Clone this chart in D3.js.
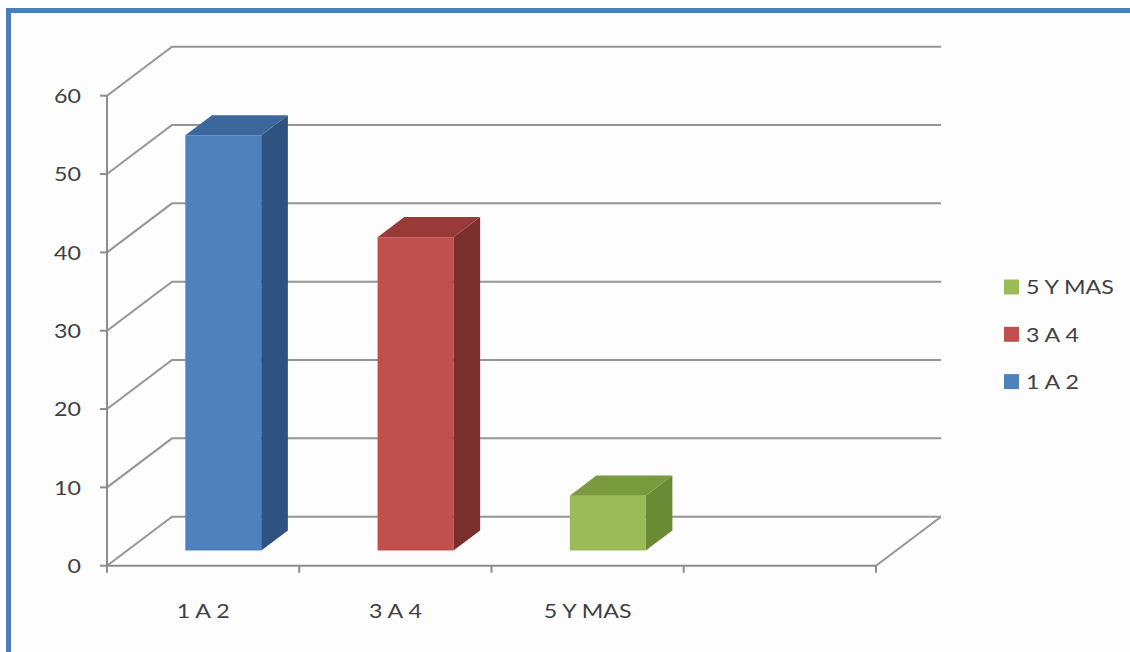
<!DOCTYPE html>
<html>
<head>
<meta charset="utf-8">
<script src="https://cdn.jsdelivr.net/npm/d3@7"></script>
<style>
  html, body { margin: 0; padding: 0; background: #ffffff; }
  svg { display: block; }
  text { font-family: Lato, "Open Sans", sans-serif; fill: #404040; }
</style>
</head>
<body>
<svg id="chart" width="1130" height="652"></svg>
<script>
// Chart data
const categories = ["1 A 2", "3 A 4", "5 Y MAS", ""];
const values = [53, 40, 7, null];
const yTicks = [0, 10, 20, 30, 40, 50, 60];
const legendOrder = ["5 Y MAS", "3 A 4", "1 A 2"];
const frontColors = ["#4f81bd", "#c0504d", "#9bbb59"];
const sideColors = ["#2f5280", "#7b2f2d", "#6b8a36"];
const topColors = ["#3c679c", "#983b38", "#7a9a3e"];

const svg = d3.select("#chart");
const TEXT_STRETCH = 1.16; // glyphs are drawn slightly wide

// frame
svg.append("rect").attr("x", 8).attr("y", 10).attr("width", 1130).attr("height", 660)
  .attr("fill", "#fdfdfd");
svg.append("path").attr("d", "M8.5,652 L8.5,10.5 L1130,10.5")
  .attr("fill", "none").attr("stroke", "#4a7ebb").attr("stroke-width", 5);

// 3D projection: depth shift of the back wall
const DX = 65, DY = -49;
const barFront = 0.31, barBack = 0.72;

const y = d3.scaleLinear().domain([0, 60]).range([565.7, 95.7]);
const x = d3.scaleBand().domain(categories).range([107, 876]).paddingInner(0).paddingOuter(0);
const barFrac = 0.395;

const grid = svg.append("g").attr("stroke", "#959595").attr("stroke-width", 2).attr("fill", "none");
const x0 = x.range()[0], x1 = x.range()[1];

// side-wall diagonals and back-wall gridlines
yTicks.forEach(v => {
  grid.append("path")
    .attr("d", `M${x0},${y(v)} L${x0 + DX},${y(v) + DY} L${x1 + DX},${y(v) + DY}`);
});
// floor right edge
grid.append("path").attr("d", `M${x1},${y(0)} L${x1 + DX},${y(0) + DY}`);

// front axes
const axisG = svg.append("g").attr("stroke", "#8c8c8c").attr("stroke-width", 2).attr("fill", "none");
axisG.append("path").attr("d", `M${x0},${y(60)} L${x0},${y(0)} L${x1},${y(0)}`);
yTicks.forEach(v => axisG.append("path").attr("d", `M${x0 - 7},${y(v)} L${x0},${y(v)}`));
const bandEdges = categories.map(c => x(c)).concat([x1]);
bandEdges.forEach(bx => axisG.append("path").attr("d", `M${bx},${y(0)} L${bx},${y(0) + 7}`));

// y tick labels
svg.append("g").selectAll("text").data(yTicks).join("text")
  .attr("transform", d => `translate(81,${y(d)}) scale(${TEXT_STRETCH},1)`)
  .attr("dy", "0.36em")
  .attr("text-anchor", "end").attr("font-size", 20)
  .text(d => d);

// category labels
svg.append("g").selectAll("text").data(categories.filter(c => c)).join("text")
  .attr("transform", d => `translate(${x(d) + x.bandwidth() / 2},618) scale(${TEXT_STRETCH},1)`)
  .attr("text-anchor", "middle").attr("font-size", 20)
  .text(d => d);

// bars
const bars = svg.append("g");
categories.forEach((c, i) => {
  const v = values[i];
  if (v == null) return;
  const w = x.bandwidth() * barFrac;
  const left = x(c) + (x.bandwidth() - w) / 2;
  const fx = DX * barFront, fy = DY * barFront;
  const bx = DX * barBack, by = DY * barBack;
  const yt = y(v), yb = y(0);
  // front face
  bars.append("path").attr("fill", frontColors[i])
    .attr("d", `M${left + fx},${yt + fy} L${left + w + fx},${yt + fy} L${left + w + fx},${yb + fy} L${left + fx},${yb + fy} Z`);
  // side face
  bars.append("path").attr("fill", sideColors[i])
    .attr("d", `M${left + w + fx},${yt + fy} L${left + w + bx},${yt + by} L${left + w + bx},${yb + by} L${left + w + fx},${yb + fy} Z`);
  // top face
  bars.append("path").attr("fill", topColors[i])
    .attr("d", `M${left + fx},${yt + fy} L${left + bx},${yt + by} L${left + w + bx},${yt + by} L${left + w + fx},${yt + fy} Z`);
});

// legend
const colorOf = c => frontColors[categories.indexOf(c)];
const leg = svg.append("g");
legendOrder.forEach((c, i) => {
  const cy = 287 + i * 47.3;
  leg.append("rect").attr("x", 1004).attr("y", cy - 7.5).attr("width", 15).attr("height", 15)
    .attr("fill", colorOf(c));
  leg.append("text").attr("transform", `translate(1026,${cy}) scale(${TEXT_STRETCH},1)`)
    .attr("dy", "0.36em")
    .attr("font-size", 20).text(c);
});
</script>
</body>
</html>
